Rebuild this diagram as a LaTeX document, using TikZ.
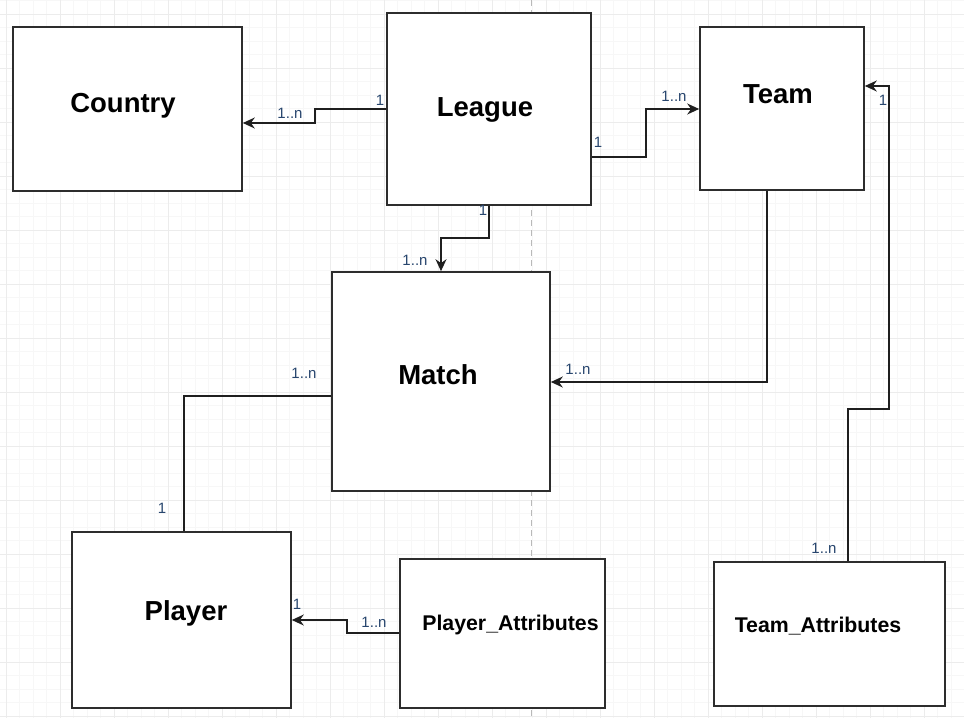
\documentclass[tikz,border=0pt]{standalone}
\usepackage{fontspec}
\setmainfont{Liberation Sans}
\usetikzlibrary{arrows.meta}
\definecolor{gridminor}{RGB}{247,247,247}
\definecolor{gridmajor}{RGB}{236,236,236}
\definecolor{boxline}{RGB}{45,45,45}
\definecolor{lab}{RGB}{40,70,110}
\definecolor{dashc}{RGB}{185,185,185}
\begin{document}
\begin{tikzpicture}[x=1pt,y=-1pt,
  box/.style={draw=boxline,line width=1.6pt,fill=white,inner sep=0pt},
  title/.style={font=\fontsize{27.5}{30}\selectfont\bfseries,inner sep=0pt,anchor=base},
  subtitle/.style={font=\fontsize{21.3}{24}\selectfont\bfseries,inner sep=0pt,anchor=base},
  lbl/.style={font=\fontsize{15}{16}\selectfont,text=lab,inner sep=0pt},
  conn/.style={draw=black!88,line width=1.6pt},
  arr/.style={conn,-{Stealth[length=12pt,width=11pt]}}]
\useasboundingbox (0,0) rectangle (964,718);
\fill[white] (0,0) rectangle (964,718);
% grid
\foreach \x in {-7.5,6,...,964} \draw[gridminor,line width=0.7pt] (\x,0) -- (\x,718);
\foreach \y in {0.5,14,...,718} \draw[gridminor,line width=0.7pt] (0,\y) -- (964,\y);
\foreach \x in {6,60,...,964} \draw[gridmajor,line width=0.8pt] (\x,0) -- (\x,718);
\foreach \y in {14,68,...,718} \draw[gridmajor,line width=0.8pt] (0,\y) -- (964,\y);
\draw[dashc,line width=1pt,dash pattern=on 6pt off 4pt] (531,0) -- (531,718);
% boxes
\node[box,minimum width=229pt,minimum height=164pt] (country) at (127.5,109) {};
\node[box,minimum width=204pt,minimum height=192pt] (league) at (489,109) {};
\node[box,minimum width=164pt,minimum height=163pt] (team) at (782,108.5) {};
\node[box,minimum width=218pt,minimum height=219pt] (match) at (441,381.5) {};
\node[box,minimum width=219pt,minimum height=176pt] (player) at (181.5,620) {};
\node[box,minimum width=205pt,minimum height=149pt] (pattr) at (502.5,633.5) {};
\node[box,minimum width=231pt,minimum height=144pt] (tattr) at (829.5,634) {};
% titles
\node[title] (countryT) at (123,112) {Country};
\node[title] (leagueT) at (485,116) {League};
\node[title] (teamT) at (778,103.5) {Team};
\node[title] (matchT) at (438,384.5) {Match};
\node[title] (playerT) at (186,620) {Player};
\node[subtitle] (pattrT) at (510.5,630.5) {Player\_Attributes};
\node[subtitle] (tattrT) at (818,632.5) {Team\_Attributes};
% connectors
\draw[arr] (league.west) -- (315,109) |- (country.east |- 0,123);
\draw[arr] (league.east |- 0,157) -| (646,109) -- (team.west |- 0,109);
\draw[arr] (league.south) -- (489,238) -| (match.north);
\draw[arr] (team.south -| 767,0) |- (match.east |- 0,382);
\draw[conn] (match.west |- 0,396) -| (player.north -| 184,0);
\draw[arr] (pattr.west |- 0,633) -| (347,620) -- (player.east |- 0,620);
\draw[arr] (tattr.north -| 848,0) |- (889,409) |- (team.east |- 0,86);
% labels
\node[lbl] (l1a) at (380,100) {1};
\node[lbl] (l1b) at (290,113) {1..n};
\node[lbl] (l2a) at (598,142) {1};
\node[lbl] (l2b) at (674,96) {1..n};
\node[lbl] (l3a) at (483,210) {1};
\node[lbl] (l3b) at (415,260) {1..n};
\node[lbl] (l4b) at (578,369) {1..n};
\node[lbl] (l5b) at (304,373) {1..n};
\node[lbl] (l5a) at (162,508) {1};
\node[lbl] (l6a) at (297,604) {1};
\node[lbl] (l6b) at (374,622) {1..n};
\node[lbl] (l7b) at (824,548) {1..n};
\node[lbl] (l7a) at (883,100) {1};
\end{tikzpicture}
\end{document}
